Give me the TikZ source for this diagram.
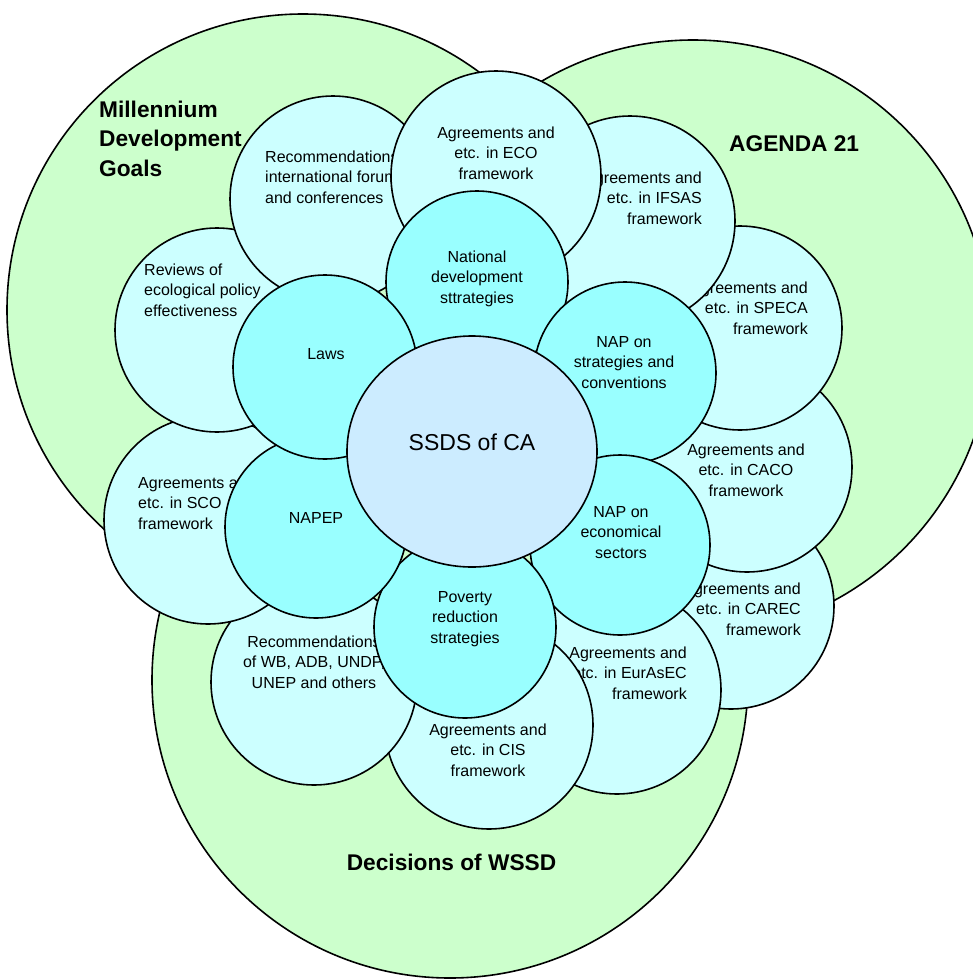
\documentclass[tikz,border=0pt]{standalone}
\usepackage{fontspec}
\setmainfont{Liberation Sans}
\usetikzlibrary{shapes.geometric}
\definecolor{bigfill}{HTML}{CCFFCC}
\definecolor{outerfill}{HTML}{CCFFFF}
\definecolor{innerfill}{HTML}{99FFFF}
\definecolor{corefill}{HTML}{CCECFF}
\newcommand{\txtblk}[2]{\begin{tabular}[t]{@{}#1@{}}#2\end{tabular}}
\tikzset{
  disc/.style={circle, draw=black, line width=1.6pt, inner sep=0pt, minimum size=#1},
  bigdisc/.style={disc=#1, fill=bigfill},
  outerdisc/.style={disc=#1, fill=outerfill},
  innerdisc/.style={disc=#1, fill=innerfill},
  smalltxt/.style={inner sep=0pt, font=\fontsize{16}{20.8}\selectfont},
  bigtxt/.style={inner sep=0pt, font=\fontsize{22.7}{29.5}\selectfont\bfseries},
}
\begin{document}
\begin{tikzpicture}[x=1pt,y=-1pt]
\useasboundingbox (0,0) rectangle (973,980);
\fill[white] (0,0) rectangle (973,980);
% big circles
\node[bigdisc=592pt] (mdg) at (303,310) {};
\node[bigdisc=596pt] (agenda) at (693,338) {};
\node[bigdisc=596pt] (wssd) at (450,680) {};
\node[bigtxt, anchor=base west] (mdgt) at (99,117) {\txtblk{l}{Millennium\\Development\\Goals}};
\node[bigtxt, anchor=base west] (agendat) at (729,151) {AGENDA 21};
\node[bigtxt, anchor=base] (wssdt) at (451.5,870) {Decisions of WSSD};
% outer ring
\node[outerdisc=206pt] (carec) at (731,606) {};
\node[smalltxt, anchor=base east] (carect) at (801,594) {\txtblk{r}{Agreements and\\etc. in CAREC\\framework}};
\node[outerdisc=210pt] (caco) at (747,467) {};
\node[smalltxt, anchor=base] (cacot) at (746,455) {\txtblk{c}{Agreements and\\etc. in CACO\\framework}};
\node[outerdisc=204pt] (speca) at (740,328) {};
\node[smalltxt, anchor=base east] (specat) at (808,293) {\txtblk{r}{Agreements and\\etc. in SPECA\\framework}};
\node[outerdisc=210pt] (ifsas) at (630,221) {};
\node[smalltxt, anchor=base east] (ifsast) at (702,183) {\txtblk{r}{Agreements and\\etc. in IFSAS\\framework}};
\node[outerdisc=208pt] (eurasec) at (617,690) {};
\node[smalltxt, anchor=base east] (eurasect) at (687,658) {\txtblk{r}{Agreements and\\etc. in EurAsEC\\framework}};
\node[outerdisc=208pt] (cis) at (489,725) {};
\node[smalltxt, anchor=base] (cist) at (488,735) {\txtblk{c}{Agreements and\\etc. in CIS\\framework}};
\node[outerdisc=206pt] (recwb) at (314,682) {};
\node[smalltxt, anchor=base] (recwbt) at (314,647) {\txtblk{c}{Recommendations\\of WB, ADB, UNDP,\\UNEP and others}};
\node[outerdisc=208pt] (sco) at (208,520) {};
\node[smalltxt, anchor=base west] (scot) at (138,488) {\txtblk{l}{Agreements and\\etc. in SCO\\framework}};
\node[outerdisc=204pt] (reviews) at (217,330) {};
\node[smalltxt, anchor=base west] (reviewst) at (144,275) {\txtblk{l}{Reviews of\\ecological policy\\effectiveness}};
\node[outerdisc=206pt] (recint) at (333,199) {};
\node[smalltxt, anchor=base west] (recintt) at (265,162) {\txtblk{l}{Recommendations of\\international forums\\and conferences}};
\node[outerdisc=210pt] (eco) at (496,176) {};
\node[smalltxt, anchor=base] (ecot) at (496,138) {\txtblk{c}{Agreements and\\etc. in ECO\\framework}};
% inner ring
\node[innerdisc=182pt] (nat) at (477,282) {};
\node[smalltxt, anchor=base] (natt) at (477,262) {\txtblk{c}{National\\development\\sttrategies}};
\node[innerdisc=182pt] (napstr) at (625,373) {};
\node[smalltxt, anchor=base] (napstrt) at (624,347) {\txtblk{c}{NAP on\\strategies and\\conventions}};
\node[innerdisc=180pt] (napeco) at (620,545) {};
\node[smalltxt, anchor=base] (napecot) at (621,517) {\txtblk{c}{NAP on\\economical\\sectors}};
\node[innerdisc=182pt] (poverty) at (465,627) {};
\node[smalltxt, anchor=base] (povertyt) at (465,602) {\txtblk{c}{Poverty\\reduction\\strategies}};
\node[innerdisc=182pt] (napep) at (316,527) {};
\node[smalltxt, anchor=base] (napept) at (316,523) {NAPEP};
\node[innerdisc=184pt] (laws) at (325,367) {};
\node[smalltxt, anchor=base] (lawst) at (326,359) {Laws};
% core
\node[ellipse, draw=black, line width=1.6pt, fill=corefill, inner sep=0pt, minimum width=250pt, minimum height=231pt] (core) at (472,451.5) {};
\node[inner sep=0pt, anchor=base, font=\fontsize{23}{28}\selectfont] (coret) at (472,450) {SSDS of CA};
\end{tikzpicture}
\end{document}
